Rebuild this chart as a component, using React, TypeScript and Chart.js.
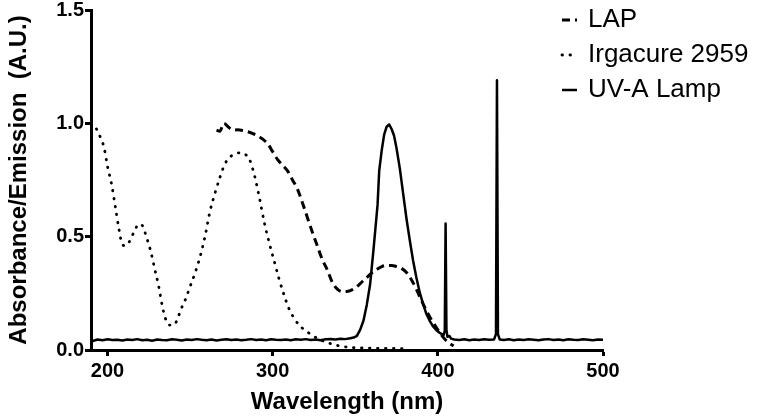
import React, { useEffect, useRef } from 'react';
import { Chart, registerables } from 'chart.js';

Chart.register(...registerables);

// ---- data (wavelength nm, value) ----
const lapSeries: [number, number][] = [
  [266, 0.97], [268, 0.965], [270.5, 1.0], [273, 0.985], [276, 0.97], [279, 0.972], [282, 0.968],
  [285, 0.963], [288, 0.955], [291, 0.945], [294, 0.93], [297, 0.91], [300, 0.875], [303, 0.84],
  [306, 0.815], [309, 0.79], [312, 0.75], [315, 0.71], [318, 0.65], [321, 0.585], [324, 0.52],
  [327, 0.46], [330, 0.4], [333, 0.355], [336, 0.3], [339, 0.27], [342, 0.258], [345, 0.258],
  [348, 0.265], [351, 0.28], [354, 0.3], [357, 0.32], [360, 0.34], [363, 0.355], [366, 0.368],
  [369, 0.373], [372, 0.373], [375, 0.368], [378, 0.36], [381, 0.342], [384, 0.31], [387, 0.268],
  [390, 0.22], [393, 0.175], [396, 0.135], [399, 0.1], [402, 0.068], [405, 0.042], [407, 0.03],
  [409.5, 0.018],
];

const irgacureSeries: [number, number][] = [
  [190, 1.0], [192, 0.99], [195, 0.95], [198, 0.89], [200, 0.81], [202.5, 0.73], [205, 0.62],
  [207, 0.53], [209, 0.465], [211, 0.46], [213, 0.475], [216, 0.52], [219, 0.555], [221, 0.55],
  [223.5, 0.5], [226, 0.44], [228.5, 0.36], [231, 0.28], [233, 0.2], [235, 0.14], [237.5, 0.11],
  [240, 0.11], [242, 0.13], [244.5, 0.18], [247, 0.22], [250, 0.28], [253, 0.34], [256, 0.41],
  [259, 0.5], [262, 0.61], [265, 0.69], [268, 0.76], [271, 0.82], [274, 0.85], [277, 0.865],
  [280, 0.87], [283, 0.865], [286, 0.84], [289, 0.77], [292, 0.67], [295, 0.56], [298, 0.47],
  [301, 0.39], [304, 0.31], [307, 0.24], [310, 0.18], [313, 0.14], [316, 0.11], [320, 0.085],
  [324, 0.065], [328, 0.048], [333, 0.033], [338, 0.022], [344, 0.014], [350, 0.01], [360, 0.008],
  [370, 0.007], [380, 0.006],
];

const uvLampSeries: [number, number][] = [
  [191, 0.04], [194, 0.046], [197, 0.043], [200, 0.047], [203, 0.044], [206, 0.045], [209, 0.042],
  [212, 0.046], [215, 0.044], [218, 0.048], [221, 0.043], [224, 0.045], [227, 0.041], [230, 0.046],
  [233, 0.044], [236, 0.043], [239, 0.047], [242, 0.045], [245, 0.042], [248, 0.046], [251, 0.044],
  [254, 0.048], [257, 0.045], [260, 0.043], [263, 0.046], [266, 0.042], [269, 0.045], [272, 0.047],
  [275, 0.044], [278, 0.046], [281, 0.043], [284, 0.045], [287, 0.048], [290, 0.044], [293, 0.046],
  [296, 0.043], [299, 0.047], [302, 0.045], [305, 0.044], [308, 0.046], [311, 0.043], [314, 0.047],
  [317, 0.045], [320, 0.048], [323, 0.044], [326, 0.046], [329, 0.043], [332, 0.047], [335, 0.049],
  [338, 0.046], [341, 0.05], [344, 0.048], [347, 0.052], [349, 0.055],
  [351, 0.062], [353, 0.09], [355, 0.13], [357, 0.2], [359, 0.29], [361, 0.44], [362.5, 0.56],
  [363.5, 0.64], [364.5, 0.79], [366, 0.88], [367.5, 0.95], [369, 0.985], [370.5, 0.995],
  [372, 0.975], [373.5, 0.945], [375, 0.89], [377, 0.8], [379, 0.69], [381, 0.58], [383, 0.485],
  [385, 0.395], [387, 0.32], [389, 0.255], [391, 0.205], [393, 0.16], [395, 0.13], [397, 0.105],
  [399, 0.088], [401, 0.076], [402.5, 0.07], [403.5, 0.066], [404.2, 0.085], [404.7, 0.558],
  [405.2, 0.09], [405.8, 0.058], [407, 0.062], [408, 0.05], [410, 0.046], [413, 0.044],
  [416, 0.047], [419, 0.043], [422, 0.046], [425, 0.044], [428, 0.047], [431, 0.045], [434, 0.046],
  [435.2, 0.07], [435.8, 1.19], [436.4, 0.07], [437.5, 0.046], [440, 0.044], [443, 0.047],
  [446, 0.043], [449, 0.046], [452, 0.044], [455, 0.047], [458, 0.045], [461, 0.043], [464, 0.046],
  [467, 0.048], [470, 0.044], [473, 0.046], [476, 0.043], [479, 0.047], [482, 0.045], [485, 0.044],
  [488, 0.047], [491, 0.045], [494, 0.043], [497, 0.046], [500, 0.045],
];

const seriesLabels = ['LAP', 'Irgacure 2959', 'UV-A Lamp'];
const xTickValues = [200, 300, 400, 500];
const yTickValues = [0, 0.5, 1.0, 1.5];
const xTitle = 'Wavelength (nm)';
const yTitle = 'Absorbance/Emission  (A.U.)';

const FONT = "'Liberation Sans', Arial, Helvetica, sans-serif";

const overlayLegend = {
  id: 'overlayLegend',
  afterDraw(chart: any, _args: any, opts: any) {
    const ctx = chart.ctx as CanvasRenderingContext2D;
    ctx.save();
    chart.data.datasets.forEach((ds: any, i: number) => {
      const y = opts.top + i * opts.spacing;
      ctx.beginPath();
      ctx.setLineDash(ds.borderDash || []);
      ctx.lineWidth = ds.borderWidth;
      ctx.lineCap = ds.borderCapStyle || 'butt';
      ctx.strokeStyle = ds.borderColor;
      ctx.moveTo(opts.x, y);
      ctx.lineTo(opts.x + opts.boxWidth, y);
      ctx.stroke();
      ctx.setLineDash([]);
      ctx.fillStyle = opts.color;
      ctx.font = opts.font;
      ctx.textBaseline = 'middle';
      ctx.textAlign = 'left';
      ctx.fillText(ds.label, opts.x + opts.boxWidth + opts.gap, y);
    });
    ctx.restore();
  },
};

const toPoints = (s: [number, number][]) => s.map(([x, y]) => ({ x, y }));

export default function App() {
  const canvasRef = useRef<HTMLCanvasElement | null>(null);

  useEffect(() => {
    document.body.style.margin = '0';
    const canvas = canvasRef.current;
    if (!canvas) return;

    const tickFont = { family: FONT, size: 20, weight: 'bold' as const };
    const titleFont = { family: FONT, size: 24, weight: 'bold' as const };

    const chart = new Chart(canvas, {
      type: 'line',
      data: {
        datasets: [
          {
            label: seriesLabels[0],
            data: toPoints(lapSeries),
            borderColor: '#000',
            borderWidth: 3,
            borderDash: [8, 5],
            borderCapStyle: 'butt',
            pointRadius: 0,
            cubicInterpolationMode: 'monotone',
            fill: false,
          },
          {
            label: seriesLabels[1],
            data: toPoints(irgacureSeries),
            borderColor: '#000',
            borderWidth: 2.8,
            borderDash: [0.5, 7.5],
            borderCapStyle: 'round',
            pointRadius: 0,
            cubicInterpolationMode: 'monotone',
            fill: false,
          },
          {
            label: seriesLabels[2],
            data: toPoints(uvLampSeries),
            borderColor: '#000',
            borderWidth: 2.5,
            borderJoinStyle: 'round',
            pointRadius: 0,
            tension: 0,
            fill: false,
          },
        ],
      },
      options: {
        animation: false,
        responsive: false,
        devicePixelRatio: 1,
        layout: { padding: { top: 10, right: 157, bottom: 0, left: 0 } },
        plugins: {
          legend: { display: false },
          tooltip: { enabled: false },
          overlayLegend: {
            x: 562,
            top: 20,
            spacing: 35,
            boxWidth: 15,
            gap: 11,
            font: `26px ${FONT}`,
            color: '#000',
          },
        } as any,
        scales: {
          x: {
            type: 'linear',
            min: 190,
            max: 500,
            afterBuildTicks: (scale: any) => {
              scale.ticks = xTickValues.map((value) => ({ value }));
            },
            afterFit: (scale: any) => {
              scale.height = 70;
              scale.paddingLeft = 0;
              scale.paddingRight = 0;
            },
            ticks: {
              font: tickFont,
              color: '#000',
              padding: 3,
              maxRotation: 0,
              callback: (v: any) => String(v),
            },
            grid: {
              display: true,
              drawOnChartArea: false,
              drawTicks: true,
              tickLength: 6,
              tickWidth: 3,
              tickColor: '#000',
            },
            border: { display: true, width: 3, color: '#000' },
            title: {
              display: true,
              text: xTitle,
              font: titleFont,
              color: '#000',
              padding: { top: 0, bottom: 3 },
            },
          },
          y: {
            type: 'linear',
            min: 0,
            max: 1.5,
            afterBuildTicks: (scale: any) => {
              scale.ticks = yTickValues.map((value) => ({ value }));
            },
            afterFit: (scale: any) => {
              scale.width = 91;
              scale.paddingTop = 0;
              scale.paddingBottom = 0;
            },
            ticks: {
              font: tickFont,
              color: '#000',
              padding: 1,
              callback: (v: any) => Number(v).toFixed(1),
            },
            grid: {
              display: true,
              drawOnChartArea: false,
              drawTicks: true,
              tickLength: 6,
              tickWidth: 3,
              tickColor: '#000',
            },
            border: { display: true, width: 3, color: '#000' },
            title: {
              display: true,
              text: yTitle,
              font: titleFont,
              color: '#000',
              padding: { top: 5, bottom: 0 },
            },
          },
        },
      } as any,
      plugins: [overlayLegend as any],
    });

    return () => {
      chart.destroy();
    };
  }, []);

  return (
    <div style={{ width: 760, height: 420 }}>
      <canvas ref={canvasRef} width={760} height={420} style={{ display: 'block' }} />
    </div>
  );
}
